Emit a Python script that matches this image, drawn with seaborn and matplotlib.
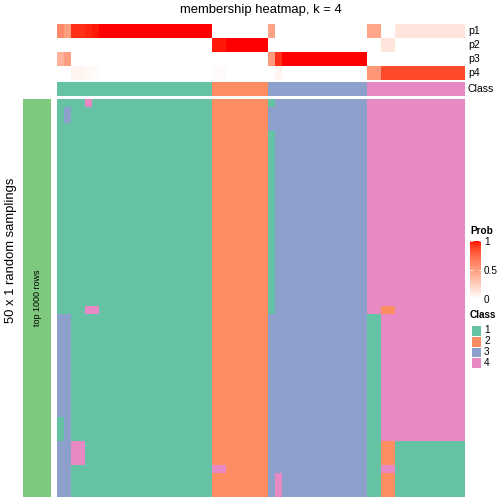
import numpy as np
import pandas as pd
import seaborn as sns
import matplotlib.pyplot as plt
from matplotlib.colors import ListedColormap

plt.rcParams['font.family'] = ['Liberation Sans', 'DejaVu Sans']

# classes and their colours
classes = ["1", "2", "3", "4"]
class_colors = ["#66C2A5", "#FC8D62", "#8DA0CB", "#E78AC3"]
prob_rows = ["p1", "p2", "p3", "p4"]

# membership probability of each of the 58 columns
p1 = [0.60, 0.50, 0.94, 0.94, 0.96, 0.98] + [1.0] * 16 + [0.0] * 8 + [0.48, 0.0] + [0.0] * 12 + [0.46, 0.46, 0.0, 0.0] + [0.14] * 10
p2 = [0.0] * 22 + [0.98, 0.98] + [1.0] * 6 + [0.0] * 14 + [0.0, 0.0, 0.14, 0.14] + [0.0] * 10
p3 = [0.40, 0.50] + [0.0] * 20 + [0.0] * 8 + [0.52, 0.94] + [1.0] * 12 + [0.0] * 14
p4 = [0.0, 0.0, 0.06, 0.06, 0.04, 0.02] + [0.0] * 16 + [0.02, 0.02] + [0.0] * 6 + [0.0, 0.06] + [0.0] * 12 + [0.54, 0.54] + [0.86] * 12
col_class = [1] * 22 + [2] * 8 + [3] * 14 + [4] * 14

# class found in each of the 50 random samplings (rows) for every column
samplings = (
    ["1111411111111111111111 22222222 13333333333333 44444444444444"]
    + ["1311111111111111111111 22222222 33333333333333 44444444444444"] * 2
    + ["1111111111111111111111 22222222 33333333333333 44444444444444"]
    + ["1111111111111111111111 22222222 13333333333333 44444444444444"] * 22
    + ["1111441111111111111111 22222222 13333333333333 44224444444444"]
    + ["3311111111111111111111 22222222 33333333333333 11444444444444"] * 13
    + ["1311111111111111111111 22222222 33333333333333 11444444444444"] * 3
    + ["3344111111111111111111 22222222 33333333333333 11221111111111"] * 3
    + ["3311111111111111111111 44222222 33333333333333 11441111111111"]
    + ["3311111111111111111111 22222222 34333333333333 11221111111111"] * 3
)
samplings = [s.replace(" ", "") for s in samplings]
assert all(len(s) == 58 for s in samplings) and len(samplings) == 50


# white -> red ramp interpolated in Lab space
def lab_ramp(n=256):
    t = np.linspace(0, 1, n)
    L = 100 - 46.76 * t
    a = 80.09 * t
    b = 67.20 * t
    fy = (L + 16) / 116
    fx = fy + a / 500
    fz = fy - b / 200

    def finv(f):
        return np.where(f > 6 / 29, f ** 3, 3 * (6 / 29) ** 2 * (f - 4 / 29))

    xyz = np.vstack([0.95047 * finv(fx), finv(fy), 1.08883 * finv(fz)])
    m = np.array([[3.2406, -1.5372, -0.4986],
                  [-0.9689, 1.8758, 0.0415],
                  [0.0557, -0.2040, 1.0570]])
    rgb = np.clip(m @ xyz, 0, 1)
    rgb = np.where(rgb <= 0.0031308, 12.92 * rgb, 1.055 * rgb ** (1 / 2.4) - 0.055)
    return ListedColormap(np.clip(rgb, 0, 1).T)


prob_cmap = lab_ramp()
class_cmap = ListedColormap(class_colors)

fig = plt.figure(figsize=(7, 7), dpi=72)
W = H = 504.0


def box(x0, y0, x1, y1):
    return fig.add_axes([x0 / W, 1 - y1 / H, (x1 - x0) / W, (y1 - y0) / H])


# probability annotation
prob = pd.DataFrame([p1, p2, p3, p4], index=prob_rows)
ax_p = box(57, 24, 465, 80)
sns.heatmap(prob, cmap=prob_cmap, vmin=0, vmax=1, cbar=False,
            xticklabels=False, yticklabels=False, ax=ax_p)
for i, lab in enumerate(prob_rows):
    ax_p.text(58.4, i + 0.5, lab, va="center", ha="left", fontsize=10.5)

# class annotation
ax_c = box(57, 82, 465, 96)
sns.heatmap(pd.DataFrame([col_class]), cmap=class_cmap, vmin=0.5, vmax=4.5, cbar=False,
            xticklabels=False, yticklabels=False, ax=ax_c)
ax_c.text(58.4, 0.5, "Class", va="center", ha="left", fontsize=10.5)

# body
body = pd.DataFrame([[int(c) for c in s] for s in samplings])
ax_b = box(57, 99, 465, 497)
sns.heatmap(body, cmap=class_cmap, vmin=0.5, vmax=4.5, cbar=False,
            xticklabels=False, yticklabels=False, ax=ax_b)

# row annotation on the left
ax_r = box(23, 99, 51, 497)
sns.heatmap(pd.DataFrame([[1]]), cmap=ListedColormap(["#7FC97F"]), cbar=False,
            xticklabels=False, yticklabels=False, ax=ax_r)
ax_r.text(0.5, 0.5, "top 1000 rows", rotation=90, ha="center", va="center", fontsize=9)

fig.text(11 / W, 1 - 250 / H, "50 x 1 random samplings", rotation=90,
         ha="center", va="center", fontsize=13)
fig.text(261 / W, 1 - 10 / H, "membership heatmap, k = 4", ha="center", va="center", fontsize=13)

# Prob legend
cax = box(470, 241, 481, 299)
cb = fig.colorbar(ax_p.collections[0], cax=cax, ticks=[0, 0.5, 1])
cb.outline.set_visible(False)
cb.set_ticklabels(["0", "0.5", "1"])
cax.tick_params(direction="in", color="white", length=2.5, width=0.8,
                left=True, right=True, labelsize=10, pad=3)
fig.text(470 / W, 1 - 231 / H, "Prob", fontweight="bold", fontsize=10, va="center")

# Class legend
fig.text(470 / W, 1 - 315 / H, "Class", fontweight="bold", fontsize=10, va="center")
ax_l = box(471, 325, 481, 368)
sns.heatmap(pd.DataFrame([[1], [2], [3], [4]]), cmap=class_cmap, vmin=0.5, vmax=4.5, cbar=False,
            linewidths=1, linecolor="white", xticklabels=False, yticklabels=False, ax=ax_l)
for i, lab in enumerate(classes):
    ax_l.text(1.3, i + 0.5, lab, va="center", ha="left", fontsize=10)

fig.savefig("out.png", dpi=72)
